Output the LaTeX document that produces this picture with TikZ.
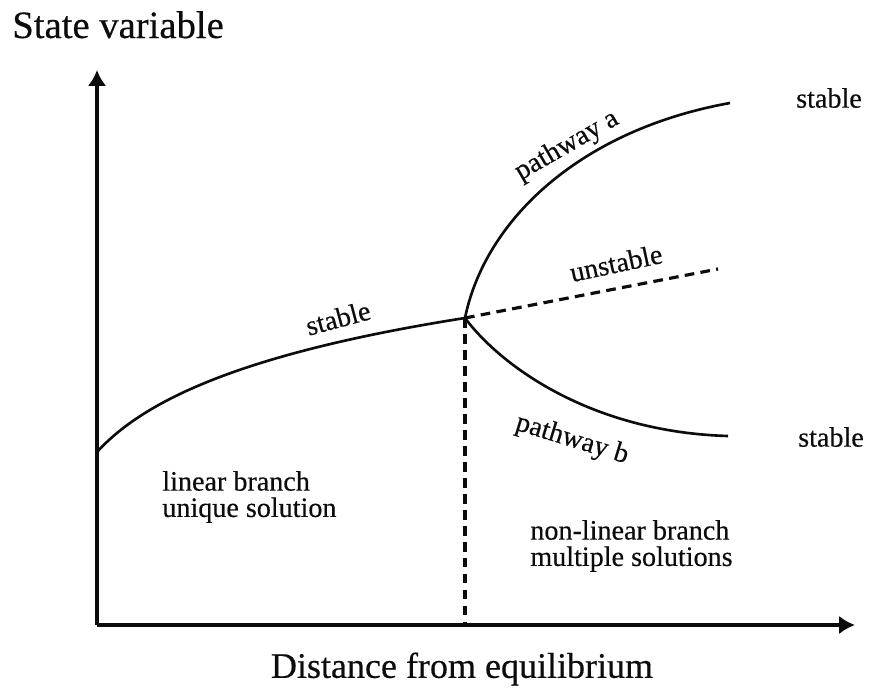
\documentclass[tikz,border=0pt]{standalone}
\usepackage{fontspec}
\setmainfont{Liberation Serif}
\newfontfamily\plotfont{Liberation Serif}[FakeBold=0.4]
\usepackage{tikz}
\usetikzlibrary{arrows.meta, positioning, calc}
\definecolor{inkBlack}{RGB}{12, 12, 12}

\begin{document}
\begin{tikzpicture}[
    x=0.02cm, y=-0.02cm,
    axis/.style={
        line width=2.4pt,
        draw=inkBlack,
        -{Latex[length=9pt,width=10.5pt]}
    },
    branch/.style={
        line width=1.5pt,
        draw=inkBlack
    },
    unstableline/.style={
        line width=1.8pt,
        draw=inkBlack,
        dash pattern=on 5.5pt off 3.6pt
    },
    axislabel/.style={
        inner sep=0pt,
        font=\plotfont\fontsize{22}{24}\selectfont,
        text=inkBlack
    },
    curvelabel/.style={
        inner sep=0pt,
        font=\plotfont\fontsize{16}{15}\selectfont,
        text=inkBlack
    },
    regionlabel/.style={
        curvelabel,
        align=left,
        anchor=west
    }
]
\useasboundingbox (0,0) rectangle (869,693);

% Points of the diagram
\coordinate (origin) at (97,625);
\coordinate (ytip) at (97,70);
\coordinate (xtip) at (855,625);
\coordinate (start) at (97,452);
\coordinate (bif) at (465,318);
\coordinate (foot) at (465,625);
\coordinate (aend) at (730,103);
\coordinate (bend) at (728,436);
\coordinate (uend) at (718,269);

% Axes
\draw[axis] (origin) -- (ytip);
\draw[axis] (origin) -- (xtip);

% Branches
\draw[branch] (start) .. controls (140,405) and (230,355) .. (bif);
\draw[branch] (bif) .. controls (485,220) and (580,130) .. (aend);
\draw[branch] (bif) .. controls (500,365) and (590,432) .. (bend);
\draw[unstableline] (bif) -- (uend);
\draw[unstableline] (bif) -- (foot);

% Labels
\node[axislabel, anchor=base west] (ylab) at (12,38) {State variable};
\node[axislabel, font=\plotfont\fontsize{20.5}{22}\selectfont] (xlab) at (462,669) {Distance from equilibrium};

\node[curvelabel, rotate=15] (stlin) at (338,318) {stable};
\node[curvelabel, rotate=30] (pwa) at (567,146) {pathway a};
\node[curvelabel, rotate=12] (unst) at (616,263) {unstable};
\node[curvelabel, rotate=-17] (pwb) at (572,440) {pathway b};
\node[curvelabel] (sta) at (829,98) {stable};
\node[curvelabel] (stb) at (831,437) {stable};

\node[regionlabel] (linreg) at (162,497) {linear branch\\unique solution};
\node[regionlabel] (nonreg) at (530,546) {non-linear branch\\multiple solutions};

\end{tikzpicture}
\end{document}
